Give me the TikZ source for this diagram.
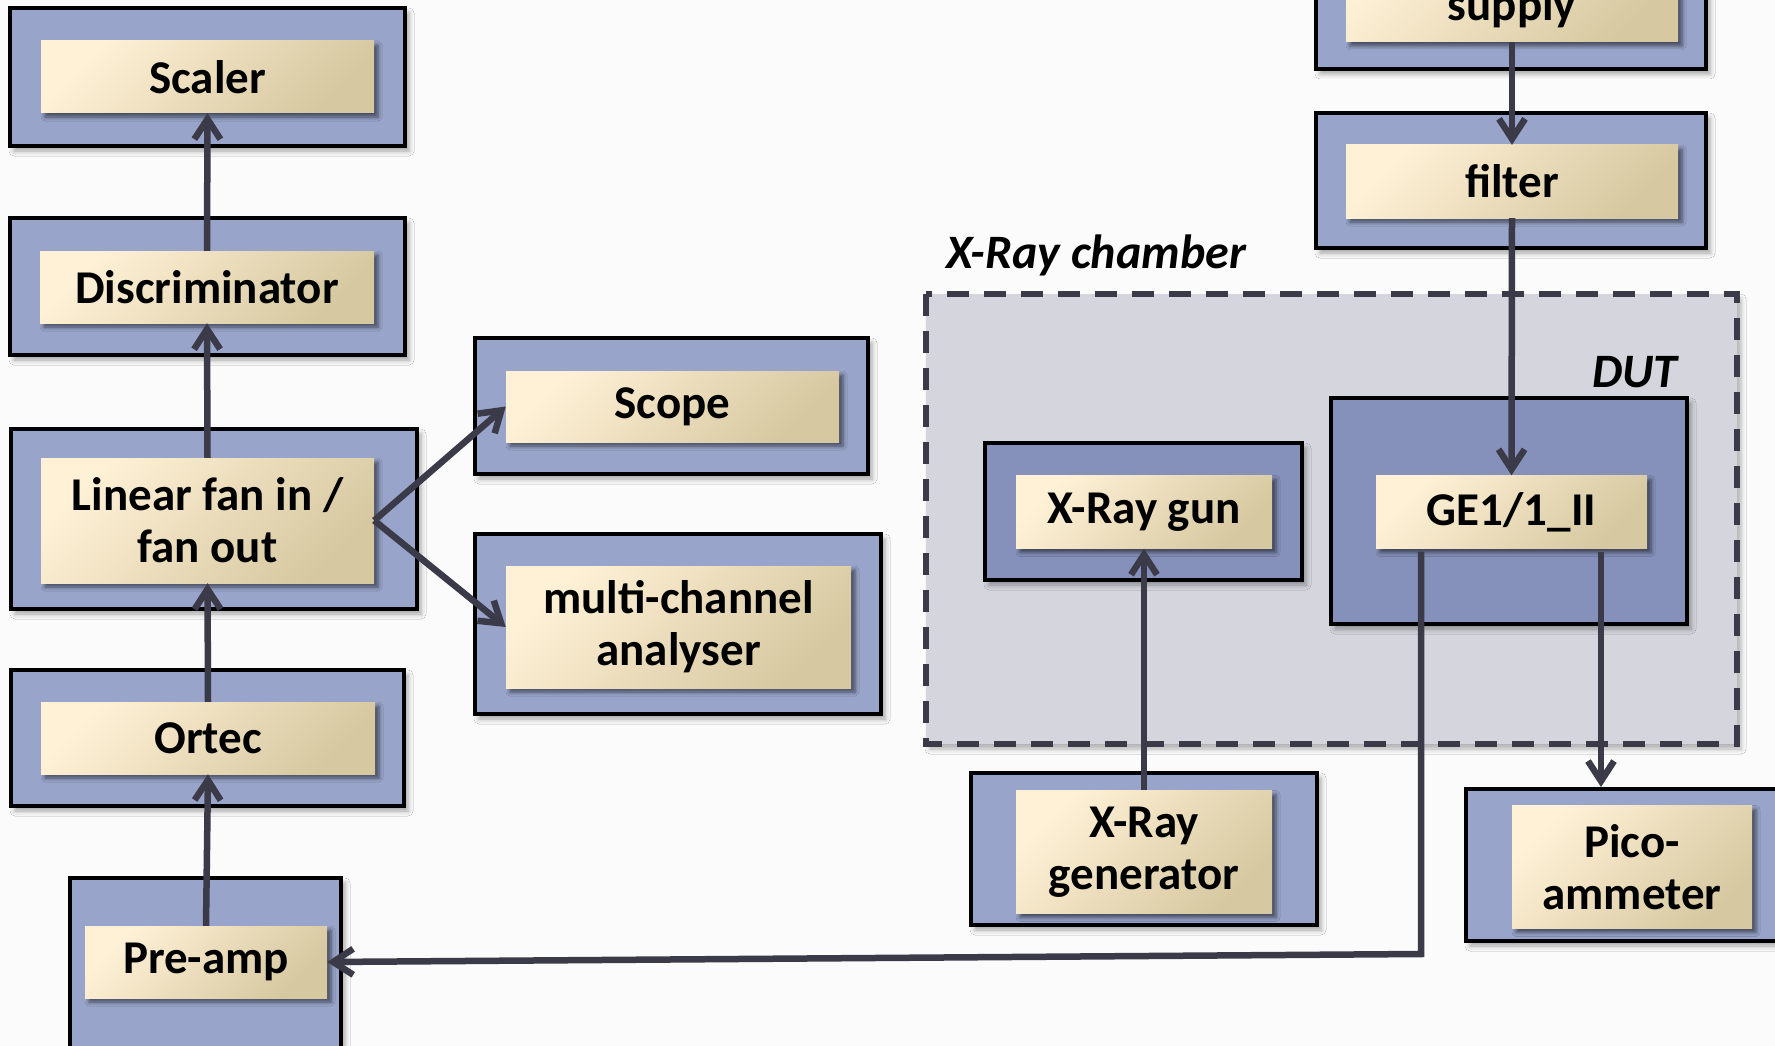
\documentclass[tikz,border=0pt]{standalone}
\usepackage{fontspec}
\setmainfont{Carlito}
\usetikzlibrary{arrows.meta,calc,shadows,shadows.blur}

\definecolor{pagebg}{HTML}{FBFBFB}
\definecolor{blueout}{HTML}{98A4CA}
\definecolor{bluein}{HTML}{8591BB}
\definecolor{chamberfill}{HTML}{D5D6DD}
\definecolor{creamA}{HTML}{FFF1D6}
\definecolor{creamB}{HTML}{F3EBD7}
\definecolor{creamC}{HTML}{D6C8A0}
\definecolor{wire}{HTML}{3B3A48}

\tikzset{
  x=1pt, y=-1pt,
  outbox/.style={draw=black, line width=4pt, fill=#1,
    blur shadow={shadow xshift=4pt, shadow yshift=-5pt, shadow blur radius=5pt, shadow opacity=35}},
  outbox/.default=blueout,
  inbox/.style={inner sep=0pt, align=center,
    left color=creamA, middle color=creamB, right color=creamC, shading angle=45,
    font=\bfseries\fontsize{47}{52}\selectfont,
    blur shadow={shadow xshift=4pt, shadow yshift=-4pt, shadow blur radius=4pt, shadow opacity=55}},
  conn/.style={draw=wire, line width=6.5pt, -{Straight Barb[length=20pt,width=26pt]}},
  tag/.style={font=\bfseries\itshape\fontsize{48}{52}\selectfont, inner sep=0pt}
}

\begin{document}
\begin{tikzpicture}
\useasboundingbox (0,0) rectangle (1775,1046);
\fill[pagebg] (0,0) rectangle (1775,1046);
\clip (0,0) rectangle (1775,1046);

% X-ray chamber enclosure
\path[fill=chamberfill, draw=wire, line width=6pt, dash pattern=on 22pt off 15pt,
  blur shadow={shadow xshift=4pt, shadow yshift=-5pt, shadow blur radius=5pt, shadow opacity=30}]
  (926,294) rectangle (1737,744);
\node[tag, anchor=base west] (chamberlbl) at (946,268) {X-Ray chamber};
\node[tag, anchor=base west] (dutlbl) at (1592,387) {DUT};

% outer frames
\path[outbox] (10,8) rectangle (405,146);
\path[outbox] (10,218) rectangle (405,355);
\path[outbox] (11,429) rectangle (417,609);
\path[outbox] (11,670) rectangle (404,806);
\path[outbox] (70,878) rectangle (341,1070);
\path[outbox] (475,338) rectangle (868,474);
\path[outbox] (475,534) rectangle (881,714);
\path[outbox] (1316,-40) rectangle (1706,69);
\path[outbox] (1316,113) rectangle (1706,248);
\path[outbox=bluein] (985,443) rectangle (1302,580);
\node[outbox=bluein, inner sep=0pt, minimum width=356pt, minimum height=226pt] (dutbox) at (1509,511) {};
\path[outbox] (971,773) rectangle (1317,925);
\node[outbox, inner sep=0pt, minimum width=340pt, minimum height=152pt] (picobox) at (1636,865) {};

% inner blocks
\node[inbox, minimum width=333pt, minimum height=72pt] (scaler) at (207.5,77) {Scaler};
\node[inbox, minimum width=334pt, minimum height=72pt] (disc) at (207,287) {Discriminator};
\node[inbox, minimum width=333pt, minimum height=125pt] (fan) at (207.5,520.5) {Linear fan in /\\fan out};
\node[inbox, minimum width=334pt, minimum height=72pt] (ortec) at (208,738) {Ortec};
\node[inbox, minimum width=242pt, minimum height=72pt] (preamp) at (206,962) {Pre-amp};
\node[inbox, minimum width=333pt, minimum height=71pt] (scope) at (672.5,406.5) {Scope};
\node[inbox, minimum width=345pt, minimum height=122pt] (mca) at (678.5,627) {multi-channel\\analyser};
\node[inbox, minimum width=332pt, minimum height=102pt] (supply) at (1512,-9) {};
\node[font=\bfseries\fontsize{47}{52}\selectfont, inner sep=0pt, anchor=base] (supplytxt) at (1512,21) {supply};
\node[inbox, minimum width=332pt, minimum height=73pt] (filter) at (1512,181.5) {filter};
\node[inbox, minimum width=256pt, minimum height=73pt] (gun) at (1144,512) {X-Ray gun};
\node[inbox, minimum width=271pt, minimum height=73pt] (ge) at (1511.5,512) {GE1/1\_II};
\node[inbox, minimum width=256pt, minimum height=123pt] (gen) at (1144,852) {X-Ray\\generator};
\node[inbox, minimum width=240pt, minimum height=123pt] (pico) at (1632,867) {Pico-\\ammeter};

% signal and supply connections
\draw[conn] (disc.north) -- (scaler.south);
\draw[conn] (fan.north) -- (disc.south);
\draw[conn] (ortec.north) -- (fan.south);
\draw[conn] (preamp.north) -- (ortec.south);
\draw[conn] (fan.east) -- (scope.west);
\draw[conn] (fan.east) -- (mca.west);
\draw[conn] (supply.south) -- (filter.north);
\draw[conn] (filter.south) -- (ge.north);
\draw[conn] (gen.north) -- (gun.south);

\coordinate (geR) at ($(ge.south)+(89.5,3)$);
\draw[conn] (geR) -- (geR |- picobox.north);
\coordinate (geL) at ($(ge.south)+(-90.5,3)$);
\coordinate (bend) at (1421,954);
\draw[conn] (geL) -- (bend) -- (preamp.east);
\end{tikzpicture}
\end{document}
